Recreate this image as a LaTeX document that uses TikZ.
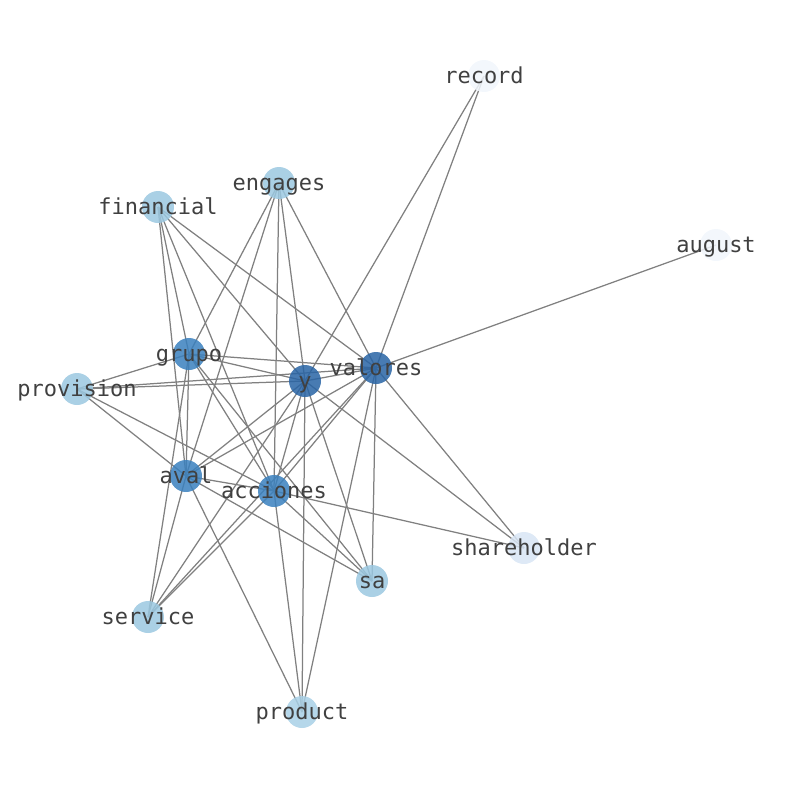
\documentclass[tikz,border=0pt]{standalone}
\usepackage{fontspec}
\newfontfamily\lblfont{DejaVu Sans Mono}
\usetikzlibrary{backgrounds}
\definecolor{cdark}{RGB}{40,100,165}
\definecolor{cmid}{RGB}{58,128,190}
\definecolor{clight}{RGB}{155,200,225}
\definecolor{cprod}{RGB}{168,208,230}
\definecolor{cpale}{RGB}{216,229,244}
\definecolor{cwhite}{RGB}{241,246,252}
\definecolor{cedge}{RGB}{128,128,128}
\definecolor{ctext}{RGB}{64,64,64}
\begin{document}
\begin{tikzpicture}[x=1pt,y=-1pt,
  vtx/.style={circle,minimum size=32pt,inner sep=0pt,draw=none,fill opacity=0.85},
  lbl/.style={text=ctext,font=\lblfont\fontsize{22}{22}\selectfont,inner sep=0pt,anchor=base},
  edge/.style={draw=cedge,line width=1.25pt}]
\useasboundingbox (0,0) rectangle (794,790);
\node[vtx,fill=cwhite] (record) at (484,76) {};
\node[vtx,fill=clight] (engages) at (279,183) {};
\node[vtx,fill=clight] (financial) at (158,207) {};
\node[vtx,fill=cwhite] (august) at (716,245) {};
\node[vtx,fill=cmid] (grupo) at (189,354) {};
\node[vtx,fill=cdark] (valores) at (376,368) {};
\node[vtx,fill=cdark] (y) at (305,381) {};
\node[vtx,fill=clight] (provision) at (77,389) {};
\node[vtx,fill=cmid] (aval) at (186,476) {};
\node[vtx,fill=cmid] (acciones) at (274,491) {};
\node[vtx,fill=cpale] (shareholder) at (524,548) {};
\node[vtx,fill=clight] (sa) at (372,581) {};
\node[vtx,fill=clight] (service) at (148,617) {};
\node[vtx,fill=cprod] (product) at (302,712) {};
\begin{scope}[on background layer]
\foreach \a/\b in {record/valores,record/y,august/valores,
  engages/grupo,engages/aval,engages/acciones,engages/y,engages/valores,
  financial/grupo,financial/aval,financial/acciones,financial/y,financial/valores,
  provision/grupo,provision/y,provision/valores,provision/aval,provision/acciones,
  grupo/y,grupo/valores,grupo/aval,grupo/service,grupo/acciones,grupo/sa,
  y/valores,y/aval,y/acciones,y/service,y/product,y/sa,y/shareholder,
  valores/aval,valores/acciones,valores/service,valores/product,valores/sa,valores/shareholder,
  aval/acciones,aval/service,aval/product,aval/sa,
  acciones/service,acciones/shareholder,acciones/sa,acciones/product}
  \draw[edge] (\a.center) -- (\b.center);
\end{scope}
\foreach \n in {record,engages,financial,august,grupo,valores,y,provision,aval,acciones,shareholder,sa,service,product}
  \node[lbl] (\n-t) at ([yshift=-7pt]\n.center) {\n};
\end{tikzpicture}
\end{document}
